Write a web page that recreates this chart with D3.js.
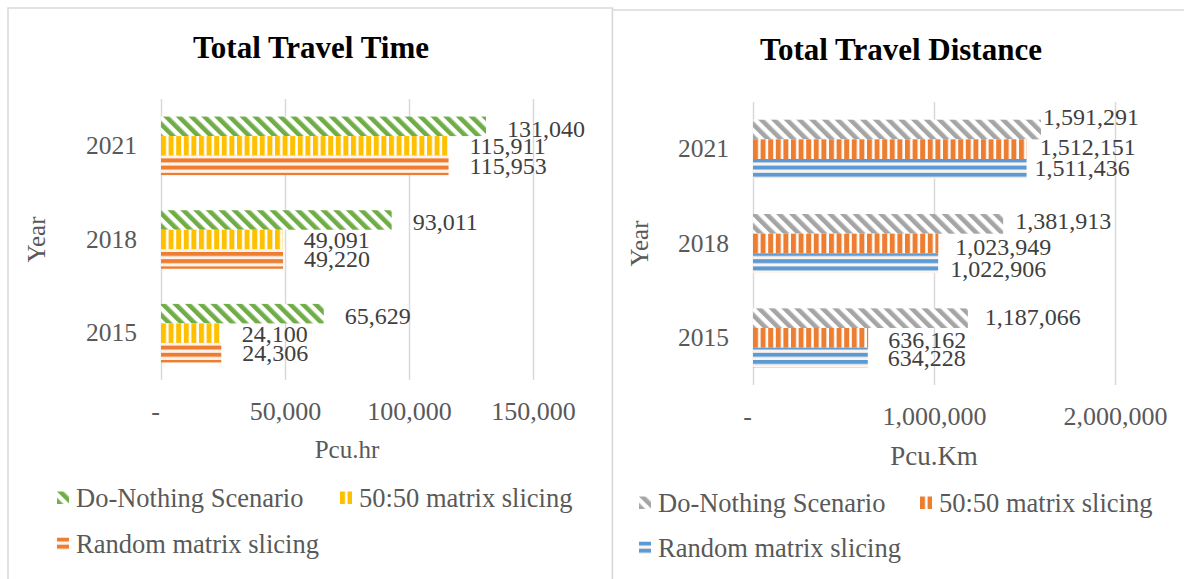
<!DOCTYPE html>
<html>
<head>
<meta charset="utf-8">
<script src="https://cdn.jsdelivr.net/npm/d3@7"></script>
<style>
  html, body { margin: 0; padding: 0; background: #fff; }
  svg { display: block; font-family: "Liberation Serif", "Times New Roman", serif; }
</style>
</head>
<body>
<svg id="chart" width="1184" height="579"></svg>
<script>
// Categories and series
const years = ["2021", "2018", "2015"];
const seriesNames = ["Do-Nothing Scenario", "50:50 matrix slicing", "Random matrix slicing"];

// Total travel time (Pcu.hr)
const timeDoNothing = [131040, 93011, 65629];
const time5050 = [115911, 49091, 24100];
const timeRandom = [115953, 49220, 24306];
const timeTicks = [0, 50000, 100000, 150000];

// Total travel distance (Pcu.Km)
const distDoNothing = [1591291, 1381913, 1187066];
const dist5050 = [1512151, 1023949, 636162];
const distRandom = [1511436, 1022906, 634228];
const distTicks = [0, 1000000, 2000000];

// Hand-placed label offsets for the distance chart [dx, dy], by year then series
const distLabelNudge = [
  [[2, -13], [13, -3], [8, -1]],
  [[12, -3], [17, 3], [12, 5]],
  [[17, -2], [20, 2], [20, 0]]
];

const svg = d3.select("#chart");
const defs = svg.append("defs");
const fmt = v => v === 0 ? "-" : d3.format(",")(v);

// Fill patterns: diagonal, vertical and horizontal stripes on white
function makePattern(id, kind, color, ox, oy) {
  let p;
  if (kind === "diag") {
    p = defs.append("pattern").attr("id", id)
      .attr("patternUnits", "userSpaceOnUse")
      .attr("width", 9).attr("height", 9)
      .attr("patternTransform", `translate(${ox},${oy}) rotate(-45)`);
    p.append("rect").attr("width", 9).attr("height", 9).attr("fill", "#fff");
    p.append("rect").attr("width", 4.6).attr("height", 9).attr("fill", color);
  } else if (kind === "vert") {
    p = defs.append("pattern").attr("id", id)
      .attr("patternUnits", "userSpaceOnUse")
      .attr("x", ox).attr("y", oy)
      .attr("width", 7.6).attr("height", 40);
    p.append("rect").attr("width", 7.6).attr("height", 40).attr("fill", "#fff");
    p.append("rect").attr("width", 5).attr("height", 40).attr("fill", color);
  } else {
    p = defs.append("pattern").attr("id", id)
      .attr("patternUnits", "userSpaceOnUse")
      .attr("x", ox).attr("y", oy)
      .attr("width", 40).attr("height", 7.2);
    p.append("rect").attr("width", 40).attr("height", 7.2).attr("fill", "#fdf3ec");
    p.append("rect").attr("width", 40).attr("height", 4).attr("fill", color);
  }
  return `url(#${id})`;
}

const kinds = ["diag", "vert", "horiz"];

function drawChart(cfg) {
  const g = svg.append("g");
  const values = cfg.values; // one array per series

  // Panel frame
  g.append("rect")
    .attr("x", cfg.panel[0]).attr("y", cfg.panel[1])
    .attr("width", cfg.panel[2]).attr("height", cfg.panel[3])
    .attr("fill", "#fff").attr("stroke", "#d9d9d9").attr("stroke-width", 1.5);

  // Title
  g.append("text")
    .attr("x", cfg.titleX).attr("y", cfg.titleY)
    .attr("text-anchor", "middle")
    .attr("font-size", 31).attr("font-weight", "bold").attr("fill", "#000")
    .text(cfg.title);

  const x = d3.scaleLinear().domain([0, cfg.xMax]).range([cfg.plot.x0, cfg.plot.x1]);
  const y = d3.scaleBand().domain(years)
    .range([cfg.plot.y0, cfg.plot.y1])
    .paddingInner(0.375).paddingOuter(0.1875);
  const yInner = d3.scaleBand().domain(d3.range(seriesNames.length)).range([0, y.bandwidth()]);

  // Value axis with gridlines
  const xAxis = g.append("g")
    .attr("transform", `translate(0,${cfg.plot.y1})`)
    .call(d3.axisBottom(x).tickValues(cfg.ticks).tickFormat(fmt)
      .tickSizeInner(-(cfg.plot.y1 - cfg.plot.y0)).tickSizeOuter(0).tickPadding(cfg.tickPad));
  xAxis.select(".domain").remove();
  xAxis.selectAll(".tick line").attr("stroke", "#d9d9d9").attr("stroke-width", 1.5);
  xAxis.selectAll(".tick text")
    .attr("font-size", 26).attr("fill", "#595959")
    .attr("font-family", "Liberation Serif")
    .attr("dx", d => d === 0 ? -6 : 0);

  // Category axis
  const yAxis = g.append("g")
    .attr("transform", `translate(${cfg.plot.x0},0)`)
    .call(d3.axisLeft(y).tickSize(0).tickPadding(24));
  yAxis.select(".domain").remove();
  yAxis.selectAll(".tick text")
    .attr("font-size", 25.5).attr("fill", "#595959")
    .attr("font-family", "Liberation Serif");

  // Axis titles
  g.append("text")
    .attr("x", (cfg.plot.x0 + cfg.plot.x1) / 2).attr("y", cfg.xTitleY)
    .attr("text-anchor", "middle").attr("font-size", cfg.xTitleSize).attr("fill", "#595959")
    .text(cfg.xTitle);
  g.append("text")
    .attr("transform", `translate(${cfg.yTitleX},${(cfg.plot.y0 + cfg.plot.y1) / 2}) rotate(-90)`)
    .attr("text-anchor", "middle").attr("font-size", 25).attr("fill", "#595959")
    .text("Year");

  // Bars
  const fills = values.map((_, s) =>
    makePattern(`${cfg.id}-bar-${s}`, kinds[s], cfg.colors[s], cfg.plot.x0, 0));

  values.forEach((arr, s) => {
    g.append("g").selectAll("rect")
      .data(arr.map((v, i) => ({ v, year: years[i] })))
      .join("rect")
      .attr("x", x(0))
      .attr("y", d => y(d.year) + yInner(s))
      .attr("width", d => x(d.v) - x(0))
      .attr("height", yInner.bandwidth())
      .attr("fill", fills[s]);
  });

  // Data labels
  values.forEach((arr, s) => {
    g.append("g").selectAll("text")
      .data(arr.map((v, i) => ({ v, i, year: years[i] })))
      .join("text")
      .attr("x", d => x(d.v) + cfg.nudge(d.i, s)[0])
      .attr("y", d => y(d.year) + yInner(s) + yInner.bandwidth() / 2 + cfg.nudge(d.i, s)[1])
      .attr("dy", "0.35em")
      .attr("font-size", 24).attr("fill", "#404040")
      .text(d => fmt(d.v));
  });

  // Legend
  cfg.legend.forEach((item, s) => {
    const [lx, ly] = item;
    const mx = lx, my = ly - 6.5;
    const fill = makePattern(`${cfg.id}-leg-${s}`, kinds[s], cfg.colors[s], mx, my);
    g.append("rect")
      .attr("x", mx).attr("y", my).attr("width", 12).attr("height", 12.5)
      .attr("fill", fill);
    g.append("text")
      .attr("x", lx + 19).attr("y", ly).attr("dy", "0.35em")
      .attr("font-size", 26.5).attr("fill", "#595959")
      .text(seriesNames[s]);
  });
}

drawChart({
  id: "time",
  title: "Total Travel Time",
  titleX: 311, titleY: 58,
  panel: [8, 8, 604.5, 620],
  plot: { x0: 161, x1: 533, y0: 99, y1: 380 },
  xMax: 150000,
  ticks: timeTicks,
  tickPad: 22,
  xTitle: "Pcu.hr", xTitleY: 458, xTitleSize: 25,
  yTitleX: 45,
  values: [timeDoNothing, time5050, timeRandom],
  colors: ["#70ad47", "#ffc000", "#ed7d31"],
  nudge: (i, s) => [21, s === 0 ? 2 : 0],
  legend: [[57, 498], [340, 498], [57, 544]]
});

drawChart({
  id: "dist",
  title: "Total Travel Distance",
  titleX: 901, titleY: 60,
  panel: [612.5, 10, 620, 620],
  plot: { x0: 753, x1: 1115, y0: 102, y1: 385 },
  xMax: 2000000,
  ticks: distTicks,
  tickPad: 22,
  xTitle: "Pcu.Km", xTitleY: 465, xTitleSize: 27,
  yTitleX: 648,
  values: [distDoNothing, dist5050, distRandom],
  colors: ["#a5a5a5", "#ed7d31", "#5b9bd5"],
  nudge: (i, s) => distLabelNudge[i][s],
  legend: [[639, 503], [920, 503], [639, 548]]
});
</script>
</body>
</html>
